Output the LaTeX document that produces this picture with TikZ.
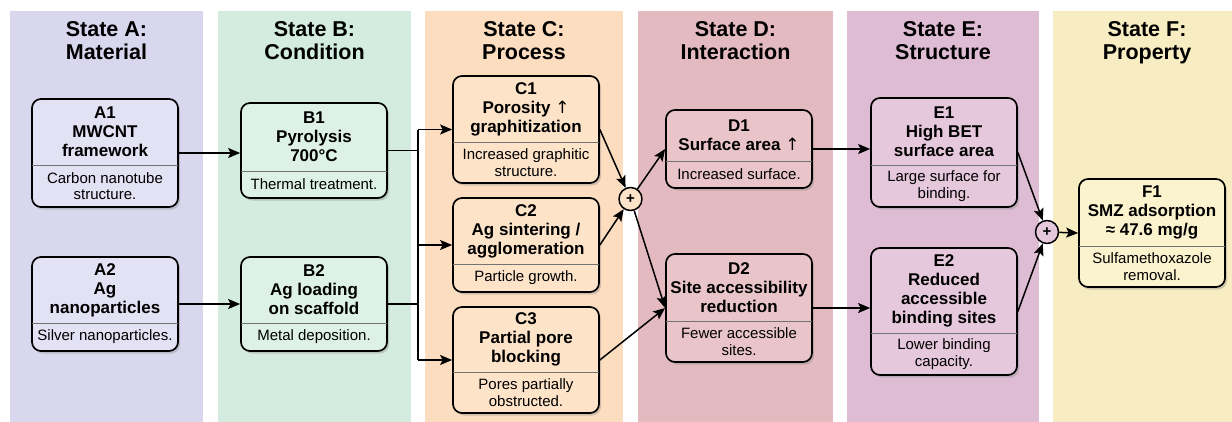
\documentclass[tikz,border=0pt]{standalone}
\usepackage{fontspec}
\setmainfont{Liberation Sans}
\newfontfamily\arrowfont{DejaVu Sans}
\usetikzlibrary{arrows.meta,fit,shadows}
\definecolor{bgA}{HTML}{D9D7EE} \definecolor{bxA}{HTML}{E3E1F4}
\definecolor{bgB}{HTML}{D3ECDF} \definecolor{bxB}{HTML}{DDF1E6}
\definecolor{bgC}{HTML}{FCDDBF} \definecolor{bxC}{HTML}{FDE3C8}
\definecolor{bgD}{HTML}{E3BAC0} \definecolor{bxD}{HTML}{E9C5CA}
\definecolor{bgE}{HTML}{DDBCD4} \definecolor{bxE}{HTML}{E6C8DD}
\definecolor{bgF}{HTML}{F8EDC2} \definecolor{bxF}{HTML}{FBF2CE}
\newcommand{\up}{{\arrowfont\mdseries ↑}}
% name, left x, top y, bottom y, divider y, fill, heading, text
\newcommand{\statebox}[8]{%
	\path (#2,#3) coordinate (#1nw) (#2+146,#4) coordinate (#1se);
	\node[box,fill=#6,fit=(#1nw)(#1se)] (#1) {};
	\draw[divline] (#2,#5) -- (#2+146,#5);
	\node[head] (#1h) at (#2+73,{(#3+#5)/2}) {#7};
	\node[desc] (#1d) at (#2+73,{(#5+#4)/2}) {#8};
}
\begin{document}
\begin{tikzpicture}[x=1pt,y=-1pt,line join=round,>={Stealth[length=12pt,width=10pt,inset=2.5pt]},
	box/.style={draw,line width=1.7pt,rounded corners=9pt,inner sep=0pt,
		drop shadow={shadow xshift=2pt,shadow yshift=-2.5pt,opacity=.35}},
	divline/.style={draw=black!55,line width=.8pt},
	head/.style={align=center,inner sep=0pt,font=\bfseries\fontsize{17}{19}\selectfont},
	desc/.style={align=center,inner sep=0pt,font=\fontsize{15}{16.5}\selectfont},
	title/.style={align=center,anchor=north,inner sep=0pt,font=\bfseries\fontsize{21.5}{23}\selectfont},
	sum/.style={circle,draw,line width=1.5pt,minimum size=23pt,inner sep=0pt,font=\bfseries\fontsize{15}{15}\selectfont},
	arr/.style={->,line width=1.5pt},
	link/.style={line width=1.5pt}]
	\useasboundingbox (0,0) rectangle (1232,421);
	\fill[white] (0,0) rectangle (1232,421);
	% columns
	\foreach \n/\xa/\xb/\w in {A/10/203/Material,B/218/411/Condition,C/425/623/Process,
		D/638/833/Interaction,E/847/1039/Structure,F/1053/1241/Property}{
		\fill[bg\n] (\xa,11) rectangle (\xb,425);
		\node[title] (title\n) at ({(\xa+\xb)/2},21) {State \n:\\\w};
	}
	% boxes
	\statebox{A1}{32}{99}{207}{165}{bxA}{A1\\MWCNT\\framework}{Carbon nanotube\\structure.}
	\statebox{A2}{32}{257}{351}{323}{bxA}{A2\\Ag\\nanoparticles}{Silver nanoparticles.}
	\statebox{B1}{241}{103}{198}{171}{bxB}{B1\\Pyrolysis\\700°C}{Thermal treatment.}
	\statebox{B2}{241}{257}{351}{323}{bxB}{B2\\Ag loading\\on scaffold}{Metal deposition.}
	\statebox{C1}{453}{76}{183}{142}{bxC}{C1\\Porosity \up\\graphitization}{Increased graphitic\\structure.}
	\statebox{C2}{453}{198}{292}{264}{bxC}{C2\\Ag sintering /\\agglomeration}{Particle growth.}
	\statebox{C3}{453}{307}{413}{372}{bxC}{C3\\Partial pore\\blocking}{Pores partially\\obstructed.}
	\statebox{D1}{666}{110}{188}{161}{bxD}{D1\\Surface area \up}{Increased surface.}
	\statebox{D2}{666}{254}{362}{321}{bxD}{D2\\Site accessibility\\reduction}{Fewer accessible\\sites.}
	\statebox{E1}{871}{98}{207}{165}{bxE}{E1\\High BET\\surface area}{Large surface for\\binding.}
	\statebox{E2}{871}{248}{375}{333}{bxE}{E2\\Reduced\\accessible\\binding sites}{Lower binding\\capacity.}
	\statebox{F1}{1079}{179}{287}{246}{bxF}{F1\\SMZ adsorption\\≈ 47.6 mg/g}{Sulfamethoxazole\\removal.}
	\node[sum,fill=bxC] (sum1) at (630.5,199) {+};
	\node[sum,fill=bxE] (sum2) at (1047,232) {+};
	\coordinate (bus) at (418,0);
	% connectors
	\draw[arr] (A1.east) -- (A1.east -| B1.west);
	\draw[arr] (A2.east) -- (A2.east -| B2.west);
	\draw[link] (B1.east) -- (B1.east -| bus);
	\draw[link] (B2.east) -- (B2.east -| bus);
	\draw[link] (C1 -| bus) -- (C3 -| bus);
	\foreach \c in {C1,C2,C3} \draw[arr] (\c -| bus) -- (\c.west);
	\draw[arr] (C1.east) -- (sum1);
	\draw[arr] (C2.east) -- (sum1);
	\draw[arr] (sum1) -- (D1.west);
	\draw[arr] (sum1) -- (D2.west);
	\draw[arr] (C3.east) -- (D2.west);
	\draw[arr] (D1.east) -- (D1.east -| E1.west);
	\draw[arr] (D2.east) -- (D2.east -| E2.west);
	\draw[arr] (E1.east) -- (sum2);
	\draw[arr] (E2.east) -- (sum2);
	\draw[arr] (sum2) -- (F1.west);
\end{tikzpicture}
\end{document}
